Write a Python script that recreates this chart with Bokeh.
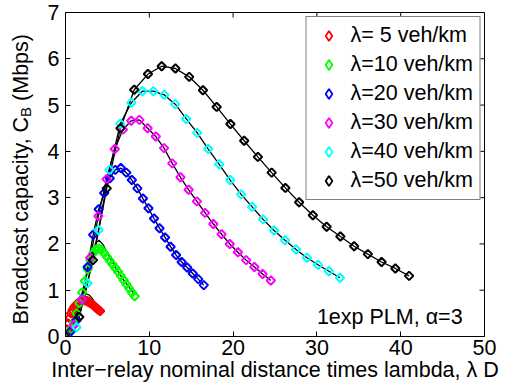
from math import pi
from bokeh.plotting import figure
from bokeh.layouts import row
from bokeh.models import Range1d, Legend, LegendItem, Label, FixedTicker, Div
from bokeh.embed import file_html
from bokeh.resources import INLINE

FONT = "Liberation Sans"
FS = "21.5px"

# ---------------- data ----------------
lam_labels = ["λ= 5 veh/km", "λ=10 veh/km", "λ=20 veh/km",
              "λ=30 veh/km", "λ=40 veh/km", "λ=50 veh/km"]
colors = ["#ff0000", "#00ff00", "#0000ff", "#ff00ff", "#00ffff", "#000000"]

# simulated points (markers), x = lambda*D
x5 = [0.0, 0.165, 0.33, 0.495, 0.66, 0.825, 0.99, 1.155, 1.32, 1.485, 1.65, 1.815, 1.98,
      2.145, 2.31, 2.475, 2.64, 2.805, 2.97, 3.135, 3.3, 3.465, 3.63, 3.795, 3.96, 4.125]
y5 = [0.05, 0.15, 0.28, 0.4, 0.5, 0.57, 0.62, 0.66, 0.69, 0.72, 0.74, 0.76, 0.77,
      0.78, 0.78, 0.77, 0.76, 0.74, 0.72, 0.7, 0.68, 0.65, 0.62, 0.6, 0.57, 0.55]

x10 = [0.0, 0.33, 0.66, 0.99, 1.32, 1.65, 1.98, 2.31, 2.64, 2.97, 3.3, 3.63, 3.96,
       4.29, 4.62, 4.95, 5.28, 5.61, 5.94, 6.27, 6.6, 6.93, 7.26, 7.59, 7.92, 8.25]
y10 = [0.0, 0.05, 0.15, 0.3, 0.5, 0.72, 0.95, 1.2, 1.45, 1.65, 1.8, 1.88, 1.9,
       1.87, 1.8, 1.72, 1.64, 1.56, 1.48, 1.4, 1.31, 1.22, 1.13, 1.04, 0.95, 0.87]

x20 = [0.0, 0.66, 1.32, 1.98, 2.64, 3.3, 3.96, 4.62, 5.28, 5.94, 6.6, 7.26, 7.92,
       8.58, 9.24, 9.9, 10.56, 11.22, 11.88, 12.54, 13.2, 13.86, 14.52, 15.18, 15.84, 16.5]
y20 = [0.02, 0.12, 0.35, 0.8, 1.5, 2.2, 2.75, 3.1, 3.42, 3.6, 3.64, 3.54, 3.38,
       3.2, 2.98, 2.77, 2.55, 2.34, 2.14, 1.94, 1.76, 1.61, 1.49, 1.36, 1.24, 1.11]

x30 = [0.0, 0.98, 1.96, 2.94, 3.92, 4.9, 5.88, 6.86, 7.84, 8.82, 9.8, 10.78, 11.76,
       12.74, 13.72, 14.7, 15.68, 16.66, 17.64, 18.62, 19.6, 20.58, 21.56, 22.54, 23.52, 24.5]
y30 = [0.02, 0.25, 0.8, 1.7, 2.6, 3.4, 4.05, 4.47, 4.66, 4.68, 4.5, 4.32, 4.07,
       3.74, 3.44, 3.17, 2.92, 2.67, 2.43, 2.21, 2.0, 1.82, 1.65, 1.5, 1.35, 1.21]

x40 = [0.0, 1.31, 2.62, 3.93, 5.24, 6.55, 7.86, 9.17, 10.48, 11.79, 13.1, 14.41, 15.72,
       17.03, 18.34, 19.65, 20.96, 22.27, 23.58, 24.89, 26.2, 27.51, 28.82, 30.13, 31.44, 32.75]
y40 = [0.02, 0.2, 1.15, 2.3, 3.6, 4.6, 5.05, 5.3, 5.3, 5.22, 5.02, 4.7, 4.4,
       4.05, 3.72, 3.38, 3.07, 2.8, 2.53, 2.29, 2.08, 1.88, 1.7, 1.55, 1.41, 1.27]

x50 = [0.0, 1.64, 3.28, 4.92, 6.56, 8.2, 9.84, 11.48, 13.12, 14.76, 16.4, 18.04, 19.68,
       21.32, 22.96, 24.6, 26.24, 27.88, 29.52, 31.16, 32.8, 34.44, 36.08, 37.72, 39.36, 41.0]
y50 = [0.02, 0.42, 1.65, 3.2, 4.5, 5.33, 5.67, 5.84, 5.79, 5.61, 5.32, 4.96, 4.59,
       4.23, 3.88, 3.54, 3.21, 2.9, 2.62, 2.37, 2.16, 1.95, 1.78, 1.61, 1.47, 1.31]

# analytical curves (solid black lines) where they differ from the points
fit5_x = [0.0, 0.5, 1.0, 1.5, 2.0, 2.4, 2.8, 3.2, 3.6, 4.0, 4.2]
fit5_y = [0.0, 0.15, 0.35, 0.55, 0.78, 0.92, 0.9, 0.82, 0.7, 0.6, 0.55]
fit10_x = [0.0, 1.0, 2.0, 3.0, 3.6, 4.0, 4.5, 5.0, 6.0, 7.0, 8.3]
fit10_y = [0.0, 0.38, 0.95, 1.7, 2.02, 2.08, 1.98, 1.8, 1.48, 1.2, 0.9]

xs = [x5, x10, x20, x30, x40, x50]
ys = [y5, y10, y20, y30, y40, y50]
fit_x = [fit5_x, fit10_x, x20, x30, x40, x50]
fit_y = [fit5_y, fit10_y, y20, y30, y40, y50]

x_ticks = [0, 10, 20, 30, 40, 50]
y_ticks = [0, 1, 2, 3, 4, 5, 6, 7]
x_min, x_max = 0, 50
y_min, y_max = 0, 7

# ---------------- figure ----------------
LABEL_W = 36
p = figure(width=514 - LABEL_W, height=391, output_backend="svg", toolbar_location=None,
           x_range=Range1d(x_min, x_max), y_range=Range1d(y_min, y_max),
           min_border_left=65 - LABEL_W, min_border_right=30, min_border_top=12,
           min_border_bottom=55)
p.xgrid.visible = False
p.ygrid.visible = False
p.outline_line_color = "black"
p.outline_line_width = 1
p.background_fill_color = "white"
p.border_fill_color = "white"

for ax in (p.xaxis[0], p.yaxis[0]):
    ax.major_label_text_font = FONT
    ax.major_label_text_font_size = FS
    ax.major_label_text_color = "black"
    ax.axis_line_color = "black"
    ax.major_tick_line_color = "black"
    ax.major_tick_in = 5
    ax.major_tick_out = 0
    ax.minor_tick_line_color = None

p.xaxis[0].ticker = FixedTicker(ticks=x_ticks)
p.yaxis[0].ticker = FixedTicker(ticks=y_ticks)
p.xaxis[0].major_label_standoff = 3
p.yaxis[0].major_label_standoff = 6
p.xaxis[0].axis_label = "Inter\u2212relay nominal distance times lambda, λ D"
p.xaxis[0].axis_label_text_font = FONT
p.xaxis[0].axis_label_text_font_size = FS
p.xaxis[0].axis_label_text_font_style = "normal"
p.xaxis[0].axis_label_text_color = "black"
p.xaxis[0].axis_label_standoff = 0

# box ticks on the top and right edges (inward, 5 px long)
p.ray(x=x_ticks, y=[y_max] * len(x_ticks), length=5, length_units="screen",
      angle=-pi / 2, line_color="black", line_width=1)
p.ray(x=[x_max] * len(y_ticks), y=y_ticks, length=5, length_units="screen",
      angle=pi, line_color="black", line_width=1)

# curves
for fx, fy in zip(fit_x, fit_y):
    p.line(fx, fy, line_color="black", line_width=1.3)

for x, y, c in zip(xs, ys, colors):
    p.scatter(x, y, marker="square", angle=pi / 4, size=6, fill_color=None,
              line_color=c, line_width=2)

# legend glyphs (diamonds): each series' first point, hidden under its own marker
legend_renderers = []
for x, y, c in zip(xs, ys, colors):
    legend_renderers.append(p.scatter(x=x[:1], y=y[:1], marker="diamond", size=9,
                                      fill_color=None, line_color=c, line_width=1.8))

legend = Legend(items=[LegendItem(label=l, renderers=[r])
                       for l, r in zip(lam_labels, legend_renderers)],
                location="top_right", label_text_font=FONT, label_text_font_size=FS,
                label_text_color="black", border_line_color="black", border_line_width=1,
                background_fill_color="white", background_fill_alpha=1.0,
                margin=4, padding=6, spacing=4, glyph_width=32, glyph_height=25,
                label_height=25, label_standoff=6)
p.add_layout(legend)

# annotation
p.add_layout(Label(x=30.0, y=0.42, text="1exp PLM, α=3", text_align="left",
                   text_baseline="alphabetic", text_font=FONT, text_font_size=FS,
                   text_color="black"))

# y axis label (with subscript) as rotated HTML text
ylabel_html = (
    '<div style="box-sizing:border-box;width:%dpx;height:391px;padding-left:9px;'
    'padding-bottom:33px;display:flex;align-items:center;justify-content:center;'
    'background:white;">'
    '<div style="writing-mode:vertical-rl;transform:rotate(180deg);white-space:nowrap;'
    "font-family:'Liberation Sans';font-size:21.5px;color:black;line-height:1;\">"
    'Broadcast capacity, C<sub style="font-size:15px;">B</sub> (Mbps)</div></div>'
) % LABEL_W
ylab = Div(text=ylabel_html, width=LABEL_W, height=391, margin=0,
           styles={"background-color": "white"})

layout = row(ylab, p, spacing=0, margin=0)
open("out.html", "w").write(file_html(layout, INLINE))
